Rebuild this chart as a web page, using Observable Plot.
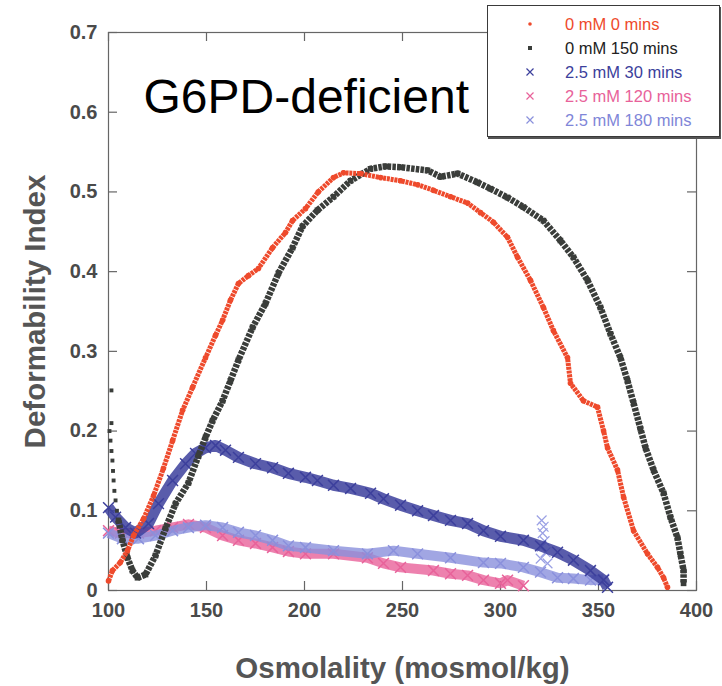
<!DOCTYPE html>
<html>
<head>
<meta charset="utf-8">
<script src="https://cdn.jsdelivr.net/npm/d3@7"></script>
<script src="https://cdn.jsdelivr.net/npm/@observablehq/plot@0.6"></script>
<style>
  body { margin: 0; background: #fff; }
  #wrap { position: relative; width: 722px; height: 686px; overflow: hidden;
          font-family: "Liberation Sans", Arial, Helvetica, sans-serif; }
  #legend { position: absolute; left: 487px; top: 5px; width: 231px; height: 130px;
            background: #fff; border: 1px solid #3a3a3a; box-shadow: 1px 2px 0 #555; }
  .row { position: absolute; left: 0; width: 231px; height: 22px; }
  .row svg { position: absolute; left: 35px; top: 4px; }
  .row span { position: absolute; left: 77px; top: 0; font-size: 16.5px; line-height: 22px; white-space: nowrap; }
</style>
</head>
<body>
<div id="wrap">
  <div id="chart"></div>
  <div id="legend"></div>
</div>
<script>
// ---- Data ----
const xTicks = [100, 150, 200, 250, 300, 350, 400];
const yTicks = [0, 0.1, 0.2, 0.3, 0.4, 0.5, 0.6, 0.7];

// 0 mM 0 mins
const red0mM0 = [
  [100,0.012],[102,0.025],[106,0.035],[109.7,0.05],[112.8,0.069],[117.9,0.09],[123,0.119],
  [128,0.153],[132.7,0.188],[137.8,0.226],[142.9,0.255],[149.5,0.292],[154.6,0.32],[158.2,0.339],
  [162.2,0.364],[166.3,0.385],[171.4,0.395],[176.5,0.404],[183.7,0.43],[190.3,0.449],[193.9,0.464],
  [200.5,0.479],[207,0.5],[214.8,0.518],[219.9,0.524],[228.6,0.523],[238.8,0.518],[249,0.514],
  [257.7,0.509],[265.8,0.502],[274.5,0.494],[283.2,0.486],[289.8,0.474],[296.4,0.462],[303.6,0.443],
  [308.7,0.418],[315.3,0.389],[321.9,0.355],[327,0.326],[334.2,0.292],[335.7,0.26],[342.3,0.238],
  [349.5,0.23],[352.6,0.2],[354.6,0.179],[359.7,0.151],[362.8,0.117],[367.9,0.075],[375,0.046],
  [380.1,0.029],[383.2,0.016],[385.2,0.004]
];
// 0 mM 150 mins: sparse start column, then the main curve
const black0mM150Start = [
  [101.5,0.251],[101.5,0.21],[100.5,0.2],[101,0.188],[101.5,0.175],[102,0.163],[102.3,0.15],
  [102.6,0.138],[103,0.125],[103.6,0.113],[104.3,0.1]
];
const black0mM150 = [
  [105.1,0.088],[107.1,0.063],[109.7,0.041],[112.2,0.025],[114.8,0.016],[118.9,0.02],[124,0.044],
  [129.1,0.078],[134.2,0.109],[140.8,0.135],[145.9,0.169],[149.5,0.192],[153.1,0.213],[158.2,0.238],
  [162.2,0.263],[166.3,0.289],[173.5,0.33],[180.1,0.36],[186.7,0.398],[193.9,0.43],[199,0.457],
  [206.6,0.477],[214.8,0.494],[223.5,0.514],[233.7,0.529],[241.3,0.532],[249,0.531],[262.8,0.527],
  [269.4,0.519],[278.1,0.523],[288.3,0.512],[294.9,0.504],[303.6,0.493],[311.7,0.481],[321.9,0.464],
  [330.6,0.439],[337.2,0.418],[344.4,0.389],[351,0.355],[356.1,0.322],[361.2,0.292],[364.8,0.263],
  [367.9,0.235],[371.4,0.203],[374,0.179],[378.1,0.151],[383.2,0.122],[386.7,0.092],[390.3,0.066],
  [391.8,0.046],[393.4,0.025],[393.4,0.009]
];
// 2.5 mM 30 mins
const blue25mM30 = [
  [100,0.104],[103.6,0.092],[108.7,0.079],[113.8,0.072],[120.4,0.084],[125.5,0.109],[132.7,0.138],
  [139.3,0.159],[144.4,0.172],[149.5,0.179],[154.6,0.182],[159.7,0.176],[166.3,0.167],[175,0.159],
  [183.7,0.154],[191.8,0.147],[200.5,0.142],[206.6,0.138],[214.8,0.132],[223.5,0.128],[233.7,0.122],
  [240.3,0.115],[249,0.107],[257.7,0.1],[265.8,0.094],[274.5,0.088],[283.2,0.084],[291.3,0.075],
  [300,0.068],[311.7,0.063],[320.4,0.056],[329.1,0.048],[337.2,0.038],[345.9,0.025],[352.6,0.013],
  [354.6,0.004]
];
// 2.5 mM 120 mins
const pink25mM120 = [
  [100,0.075],[106.1,0.072],[115.3,0.072],[124,0.075],[132.7,0.079],[140.8,0.083],[149.5,0.079],
  [158.2,0.069],[166.3,0.063],[175,0.059],[183.7,0.054],[191.8,0.049],[200.5,0.046],[214.8,0.046],
  [232.1,0.041],[240.3,0.034],[249,0.029],[265.8,0.025],[274.5,0.021],[283.2,0.019],[291.3,0.013],
  [300,0.009],[303.6,0.013],[311.7,0.006]
];
// 2.5 mM 180 mins
const lav25mM180 = [
  [100,0.072],[107.1,0.065],[115.3,0.065],[124,0.069],[132.7,0.075],[140.8,0.079],[149.5,0.082],
  [158.2,0.079],[166.3,0.073],[175,0.069],[183.7,0.063],[191.8,0.056],[200.5,0.054],[214.8,0.05],
  [232.1,0.046],[245.4,0.05],[257.7,0.046],[274.5,0.041],[291.3,0.035],[300,0.034],[311.7,0.029],
  [320.4,0.023],[329.1,0.016],[337.2,0.015],[345.9,0.013],[352.6,0.014]
];
const lav25mM180Stray = [
  [321,0.088],[322,0.08],[321.5,0.072],[322.5,0.062],[321,0.055],[323,0.048],[320.5,0.04],[324,0.034]
];

const legendLabels = ["0 mM 0 mins", "0 mM 150 mins", "2.5 mM 30 mins", "2.5 mM 120 mins", "2.5 mM 180 mins"];
const legendColors = ["#ee4a2c", "#3a3d3a", "#3c3f9c", "#e8629a", "#8a90dc"];
const legendSymbols = ["dot", "square", "times", "times", "times"];
const legendTextColors = ["#ee4a2c", "#222222", "#3c3f9c", "#e8629a", "#7f86d8"];

const [cRed, cBlack, cBlue, cPink, cLav] = legendColors;
const X = d => d[0], Y = d => d[1];

const W = 722, H = 686, mL = 108, mR = 26, mT = 32, mB = 96;
const plotW = W - mL - mR, plotH = H - mT - mB, tick = 9;

const bandLine = (data, color, w, op, dash) =>
  Plot.line(data, {x: X, y: Y, stroke: color, strokeWidth: w, strokeOpacity: op,
                   strokeLinejoin: "round", strokeLinecap: "butt", strokeDasharray: dash});

const yFmt = d => d === 0 ? "0" : d3.format(".1f")(d);

const chart = Plot.plot({
  width: W, height: H,
  marginLeft: mL, marginRight: mR, marginTop: mT, marginBottom: mB,
  x: {domain: [100, 400]},
  y: {domain: [0, 0.7]},
  style: {fontFamily: "'Liberation Sans', Arial, Helvetica, sans-serif", background: "#fff", overflow: "visible"},
  marks: [
    Plot.frame({stroke: "#666", strokeWidth: 1.2}),
    Plot.axisX(xTicks, {anchor: "bottom", tickSize: 0, tickPadding: 12, fontSize: 20, fontWeight: "bold", fill: "#4a4a4a", label: null}),
    Plot.axisY(yTicks, {anchor: "left", tickSize: 0, tickPadding: 11, tickFormat: yFmt, fontSize: 20, fontWeight: "bold", fill: "#4a4a4a", label: null}),
    // inward ticks on all four sides
    Plot.tickX(xTicks, {x: d => d, insetTop: plotH - tick, stroke: "#666", strokeWidth: 1.2}),
    Plot.tickX(xTicks, {x: d => d, insetBottom: plotH - tick, stroke: "#666", strokeWidth: 1.2}),
    Plot.tickY(yTicks, {y: d => d, insetRight: plotW - tick, stroke: "#666", strokeWidth: 1.2}),
    Plot.tickY(yTicks, {y: d => d, insetLeft: plotW - tick, stroke: "#666", strokeWidth: 1.2}),

    // 2.5 mM 120 mins
    bandLine(pink25mM120, cPink, 10, 0.8),
    Plot.dot(pink25mM120, {x: X, y: Y, symbol: "times", r: 5, stroke: cPink, strokeWidth: 1.5}),
    // 2.5 mM 180 mins
    bandLine(lav25mM180, cLav, 10, 0.8),
    Plot.dot(lav25mM180, {x: X, y: Y, symbol: "times", r: 5, stroke: cLav, strokeWidth: 1.5}),
    Plot.dot(lav25mM180Stray, {x: X, y: Y, symbol: "times", r: 4.5, stroke: "#9aa0e4", strokeWidth: 1.2}),
    // 2.5 mM 30 mins
    bandLine(blue25mM30, cBlue, 11, 0.85),
    Plot.dot(blue25mM30, {x: X, y: Y, symbol: "times", r: 5, stroke: cBlue, strokeWidth: 1.5}),
    // 0 mM 150 mins
    Plot.dot(black0mM150Start, {x: X, y: Y, symbol: "square", r: 2.2, fill: cBlack}),
    bandLine(black0mM150, cBlack, 6.5, 1, "3.5,1.2"),
    Plot.dot(black0mM150, {x: X, y: Y, symbol: "square", r: 3.2, fill: cBlack}),
    // 0 mM 0 mins
    bandLine(red0mM0, cRed, 5, 1, "3,0.8"),
    Plot.dot(red0mM0, {x: X, y: Y, r: 2.8, fill: cRed}),

    // Texts
    Plot.text(["G6PD-deficient"], {frameAnchor: "top-left", dx: 35, dy: 80, lineAnchor: "bottom", textAnchor: "start", fontSize: 48, fill: "#000"}),
    Plot.text(["Deformability Index"], {frameAnchor: "left", dx: -73, rotate: -90, textAnchor: "middle", lineAnchor: "middle", fontSize: 29.5, fontWeight: "bold", fill: "#555"}),
    Plot.text(["Osmolality (mosmol/kg)"], {frameAnchor: "bottom", dy: 78, textAnchor: "middle", lineAnchor: "middle", fontSize: 29.5, fontWeight: "bold", fill: "#555"})
  ]
});
document.getElementById("chart").appendChild(chart);

// Legend
const legend = d3.select("#legend");
legendLabels.forEach((label, i) => {
  const row = legend.append("div").attr("class", "row").style("top", (7 + i * 24) + "px");
  const svg = row.append("svg").attr("width", 14).attr("height", 14);
  const c = legendColors[i];
  if (legendSymbols[i] === "dot") svg.append("circle").attr("cx", 7).attr("cy", 7).attr("r", 1.8).attr("fill", c);
  else if (legendSymbols[i] === "square") svg.append("rect").attr("x", 5).attr("y", 5).attr("width", 4).attr("height", 4).attr("fill", c);
  else svg.append("path").attr("d", "M3.5,3.5L10.5,10.5M10.5,3.5L3.5,10.5").attr("stroke", c).attr("stroke-width", 1.2);
  row.append("span").style("color", legendTextColors[i]).text(label);
});
</script>
</body>
</html>
